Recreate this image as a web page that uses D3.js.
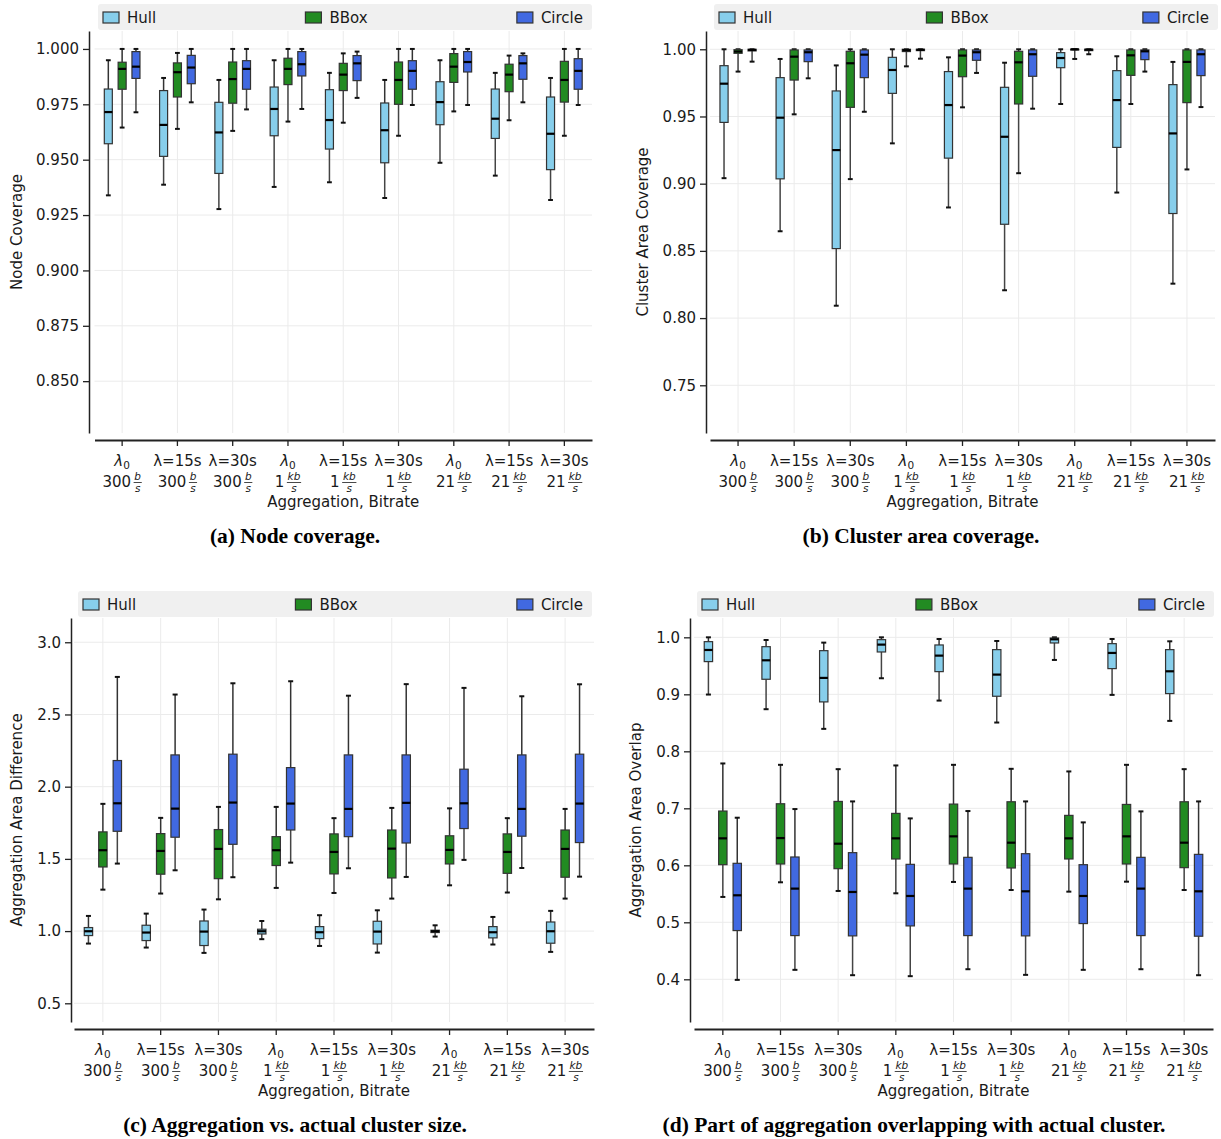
<!DOCTYPE html>
<html><head><meta charset="utf-8">
<script src="https://cdn.jsdelivr.net/npm/d3@7"></script>
<style>body{margin:0;background:#fff} svg{display:block}</style>
</head><body>
<svg id="chart" width="1221" height="1139"></svg>
<script>
// ---------------- DATA ----------------
const aggregation = ["λ0","λ=15s","λ=30s","λ0","λ=15s","λ=30s","λ0","λ=15s","λ=30s"];
const bitrateValue = ["300","300","300","1","1","1","21","21","21"];
const bitrateUnit = ["b","b","b","kb","kb","kb","kb","kb","kb"];
const series = ["Hull","BBox","Circle"];
const seriesColors = ["#87CEEB","#228B22","#4169E1"];

// each row: [lowWhisker, q1, median, q3, highWhisker]
const nodeHull = [[0.9339,0.9572,0.9715,0.9819,0.9949],[0.9387,0.9515,0.9657,0.9812,0.9869],[0.9277,0.9438,0.9623,0.9759,0.986],
  [0.9377,0.9608,0.9729,0.9828,0.9949],[0.9398,0.9548,0.9679,0.9816,0.9892],[0.9327,0.9486,0.9633,0.9756,0.986],
  [0.9486,0.9658,0.976,0.9852,0.9949],[0.9428,0.9596,0.9685,0.9819,0.9892],[0.9318,0.9455,0.9617,0.9783,0.9869]];
const nodeBBox = [[0.9645,0.9818,0.991,0.994,1.0],[0.9639,0.9783,0.9895,0.9937,0.9982],[0.963,0.9755,0.9864,0.9941,1.0],
  [0.9672,0.9839,0.991,0.9958,1.0],[0.9667,0.9812,0.9884,0.9935,0.998],[0.9608,0.975,0.986,0.9941,1.0],
  [0.9718,0.9849,0.992,0.9979,1.0],[0.9678,0.9807,0.9884,0.9931,0.997],[0.9608,0.976,0.986,0.9944,1.0]];
const nodeCircle = [[0.9714,0.9867,0.992,0.9988,1.0],[0.9759,0.9843,0.9916,0.9971,1.0],[0.9727,0.9818,0.991,0.9947,1.0],
  [0.9729,0.9878,0.9931,0.9988,1.0],[0.9779,0.9857,0.9935,0.997,0.9988],[0.9747,0.9818,0.9901,0.9947,1.0],
  [0.9747,0.9896,0.9941,0.9988,1.0],[0.9759,0.9863,0.9935,0.997,0.998],[0.9747,0.9818,0.9901,0.9956,1.0]];

const areaHull = [[0.9041,0.9456,0.9744,0.9878,1.0],[0.8646,0.9036,0.9491,0.9789,0.9928],[0.8092,0.8517,0.925,0.969,0.988],
  [0.93,0.9672,0.9846,0.994,1.0],[0.8823,0.919,0.9585,0.9834,0.994],[0.8207,0.8698,0.9349,0.9717,0.99],
  [0.9593,0.9863,0.9935,0.9975,1.0],[0.8934,0.927,0.9622,0.9841,0.9948],[0.8256,0.8778,0.9374,0.9737,0.9906]];
const areaBBox = [[0.9834,0.997,0.9983,0.9997,1.0],[0.9516,0.9771,0.9945,0.9995,1.0],[0.9034,0.9568,0.9896,0.9985,1.0],
  [0.9873,0.9983,0.9993,1.0,1.0],[0.9568,0.9796,0.9953,0.9995,1.0],[0.9078,0.9593,0.9903,0.9985,1.0],
  [0.9928,0.9995,1.0,1.0,1.0],[0.9593,0.9806,0.9955,0.9995,1.0],[0.9106,0.9603,0.9906,0.9995,1.0]];
const areaCircle = [[0.9908,0.9988,0.9995,1.0,1.0],[0.9784,0.9908,0.9978,0.9995,1.0],[0.9535,0.9789,0.996,0.9995,1.0],
  [0.993,0.999,0.9996,1.0,1.0],[0.9824,0.9918,0.9978,0.9995,1.0],[0.9558,0.9799,0.9963,0.9995,1.0],
  [0.9963,0.999,0.9997,1.0,1.0],[0.9834,0.9923,0.9985,0.9995,1.0],[0.957,0.9804,0.9963,0.9995,1.0]];

const diffHull = [[0.9136,0.969,0.999,1.0244,1.105],[0.886,0.9344,0.99,1.0405,1.121],[0.849,0.9,0.9966,1.07,1.149],
  [0.944,0.98,0.999,1.013,1.07],[0.897,0.948,0.9921,1.031,1.11],[0.851,0.911,0.9966,1.068,1.144],
  [0.962,0.99,0.999,1.006,1.04],[0.907,0.953,0.992,1.031,1.098],[0.856,0.916,0.999,1.063,1.14]];
const diffBBox = [[1.287,1.444,1.56,1.687,1.881],[1.26,1.394,1.555,1.675,1.784],[1.22,1.363,1.569,1.703,1.86],
  [1.299,1.454,1.56,1.654,1.86],[1.264,1.396,1.548,1.673,1.782],[1.225,1.368,1.571,1.70,1.853],
  [1.317,1.465,1.562,1.66,1.85],[1.267,1.40,1.548,1.673,1.782],[1.225,1.373,1.569,1.70,1.846]];
const diffCircle = [[1.4675,1.691,1.885,2.181,2.76],[1.421,1.65,1.848,2.22,2.638],[1.373,1.601,1.89,2.225,2.716],
  [1.474,1.70,1.883,2.132,2.73],[1.435,1.654,1.846,2.22,2.63],[1.375,1.61,1.888,2.22,2.71],
  [1.493,1.71,1.885,2.121,2.684],[1.437,1.657,1.846,2.22,2.626],[1.377,1.613,1.883,2.225,2.709]];

const overlapHull = [[0.8996,0.9574,0.9778,0.9924,1.0],[0.8739,0.9264,0.9597,0.9836,0.9953],[0.8394,0.8867,0.9288,0.9766,0.9907],
  [0.9282,0.9743,0.9872,0.9959,1.0],[0.889,0.9398,0.9679,0.9866,0.9971],[0.8505,0.8966,0.9346,0.9784,0.9936],
  [0.9603,0.9901,0.9965,0.9988,1.0],[0.899,0.9451,0.9726,0.9889,0.9971],[0.8534,0.9013,0.9404,0.9784,0.993]];
const overlapBBox = [[0.5445,0.6011,0.6473,0.6952,0.7787],[0.5702,0.6023,0.6478,0.708,0.7763],[0.555,0.5941,0.6379,0.7121,0.7687],
  [0.5509,0.6111,0.6473,0.6911,0.7752],[0.5708,0.6023,0.6508,0.7074,0.7763],[0.5567,0.5953,0.6397,0.7115,0.7693],
  [0.5538,0.6111,0.6473,0.6876,0.7647],[0.5713,0.6023,0.6508,0.7068,0.7763],[0.5567,0.5959,0.6397,0.7115,0.7687]];
const overlapCircle = [[0.399,0.4855,0.5474,0.6035,0.6835],[0.4166,0.4767,0.5591,0.6146,0.6987],[0.4072,0.4762,0.5532,0.6222,0.7121],
  [0.4055,0.4937,0.5462,0.6017,0.6823],[0.4177,0.4767,0.5591,0.614,0.6952],[0.4078,0.4762,0.5544,0.6204,0.7121],
  [0.4166,0.4978,0.5462,0.6011,0.6753],[0.4177,0.4767,0.5591,0.614,0.6946],[0.4072,0.4756,0.5544,0.6192,0.7121]];

const ticksA = [0.850,0.875,0.900,0.925,0.950,0.975,1.000];
const ticksB = [0.75,0.80,0.85,0.90,0.95,1.00];
const ticksC = [0.5,1.0,1.5,2.0,2.5,3.0];
const ticksD = [0.4,0.5,0.6,0.7,0.8,0.9,1.0];

// ---------------- LAYOUT ----------------
const panels = [
  {data:[nodeHull,nodeBBox,nodeCircle], ticks:ticksA, fmt:".3f", domain:[0.8266,1.0081], ylabel:"Node Coverage",
   caption:"(a) Node coverage.", x0:94.5, x1:592, yAxisX:89, top:31, bottom:433, xAxisY:440, ylabX:17, capX:295, leg:[98,592]},
  {data:[areaHull,areaBBox,areaCircle], ticks:ticksB, fmt:".2f", domain:[0.7145,1.0136], ylabel:"Cluster Area Coverage",
   caption:"(b) Cluster area coverage.", x0:710, x1:1215, yAxisX:706, top:31, bottom:433, xAxisY:440, ylabX:643, capX:921, leg:[714,1218]},
  {data:[diffHull,diffBBox,diffCircle], ticks:ticksC, fmt:".1f", domain:[0.3705,3.168], ylabel:"Aggregation Area Difference",
   caption:"(c) Aggregation vs. actual cluster size.", x0:74, x1:594, yAxisX:71, top:618, bottom:1022, xAxisY:1029, ylabX:17, capX:295, leg:[78,592]},
  {data:[overlapHull,overlapBBox,overlapCircle], ticks:ticksD, fmt:".1f", domain:[0.3251,1.0339], ylabel:"Aggregation Area Overlap",
   caption:"(d) Part of aggregation overlapping with actual cluster.", x0:694, x1:1213, yAxisX:690, top:618, bottom:1022, xAxisY:1029, ylabX:636, capX:914, leg:[697,1214]}
];

const svg = d3.select("#chart");
const FONT = "DejaVu Sans, sans-serif";
const TXT = "#1a1a1a";

panels.forEach(p => {
  const g = svg.append("g");
  const x = d3.scaleBand().domain(d3.range(aggregation.length)).range([p.x0, p.x1]);
  const y = d3.scaleLinear().domain(p.domain).range([p.bottom, p.top]);
  const step = x.step();
  const cx = i => x(i) + x.bandwidth()/2;

  // grid
  g.append("g").selectAll("line").data(p.ticks).join("line")
    .attr("x1", p.x0).attr("x2", p.x1).attr("y1", d=>y(d)).attr("y2", d=>y(d))
    .attr("stroke", "#ebebeb").attr("stroke-width", 1);
  g.append("g").selectAll("line").data(d3.range(aggregation.length)).join("line")
    .attr("x1", cx).attr("x2", cx).attr("y1", p.top).attr("y2", p.bottom)
    .attr("stroke", "#ebebeb").attr("stroke-width", 1);

  // y axis
  const ya = g.append("g").attr("transform", `translate(${p.yAxisX},0)`)
    .call(d3.axisLeft(y).tickValues(p.ticks).tickFormat(d3.format(p.fmt)).tickSize(6).tickSizeOuter(0).tickPadding(4));
  ya.select(".domain").attr("stroke", "#222").attr("stroke-width", 1.5);
  ya.selectAll(".tick line").attr("stroke", "#222").attr("stroke-width", 1.3);
  ya.selectAll(".tick text").attr("font-family", FONT).attr("font-size", 15).attr("fill", TXT);

  // x axis
  const xa = g.append("g").attr("transform", `translate(0,${p.xAxisY})`)
    .call(d3.axisBottom(x).tickSize(6).tickSizeOuter(0).tickFormat(""));
  xa.select(".domain").attr("stroke", "#222").attr("stroke-width", 1.8);
  xa.selectAll(".tick line").attr("stroke", "#222").attr("stroke-width", 1.3);

  // x tick labels
  aggregation.forEach((lab, i) => {
    const tx = cx(i);
    const b1 = p.xAxisY + 26;
    const t1 = g.append("text").attr("x", tx).attr("y", b1).attr("text-anchor", "middle")
      .attr("font-family", FONT).attr("font-size", 15).attr("fill", TXT);
    if (lab === "λ0") {
      t1.append("tspan").attr("font-style", "italic").text("λ");
      t1.append("tspan").attr("font-size", 10.5).attr("dy", 3).text("0");
    } else {
      t1.text(lab);
    }
    // bitrate line with fraction
    const b2 = p.xAxisY + 47;
    const lg = g.append("g");
    const num = lg.append("text").attr("font-family", FONT).attr("font-size", 15).attr("fill", TXT)
      .attr("x", 0).attr("y", b2).text(bitrateValue[i]);
    const nw = num.node().getComputedTextLength();
    const fn = lg.append("text").attr("font-family", FONT).attr("font-size", 10.5).attr("font-style", "italic")
      .attr("fill", TXT).attr("text-anchor", "middle").attr("y", b2 - 7).text(bitrateUnit[i]);
    const fd = lg.append("text").attr("font-family", FONT).attr("font-size", 10.5).attr("font-style", "italic")
      .attr("fill", TXT).attr("text-anchor", "middle").attr("y", b2 + 4.5).text("s");
    const fw = Math.max(fn.node().getComputedTextLength(), fd.node().getComputedTextLength()) + 1.5;
    const fx = nw + 2.5 + fw/2;
    fn.attr("x", fx); fd.attr("x", fx);
    lg.append("line").attr("x1", nw + 2.5).attr("x2", nw + 2.5 + fw).attr("y1", b2 - 4.5).attr("y2", b2 - 4.5)
      .attr("stroke", TXT).attr("stroke-width", 0.8);
    const total = nw + 2.5 + fw;
    lg.attr("transform", `translate(${tx - total/2},0)`);
  });

  // axis titles
  g.append("text").attr("x", (p.x0 + p.x1)/2).attr("y", p.xAxisY + 67).attr("text-anchor", "middle")
    .attr("font-family", FONT).attr("font-size", 15).attr("fill", TXT).text("Aggregation, Bitrate");
  g.append("text").attr("transform", `translate(${p.ylabX},${(p.top+p.bottom)/2}) rotate(-90)`)
    .attr("text-anchor", "middle").attr("dy", "0.35em")
    .attr("font-family", FONT).attr("font-size", 15).attr("fill", TXT).text(p.ylabel);
  g.append("text").attr("x", p.capX).attr("y", p.xAxisY + 103).attr("text-anchor", "middle")
    .attr("font-family", "Liberation Serif, Times New Roman, serif").attr("font-weight", "bold").attr("font-size", 21.5)
    .attr("fill", "#000").text(p.caption);

  // boxes
  const off = 0.25 * step, bw = 0.145 * step, cw = 0.6 * bw;
  series.forEach((s, si) => {
    const sg = g.append("g");
    p.data[si].forEach((d, i) => {
      const bx = cx(i) + (si - 1) * off;
      const [lo, q1, med, q3, hi] = d;
      sg.append("line").attr("x1", bx).attr("x2", bx).attr("y1", y(q3)).attr("y2", y(hi))
        .attr("stroke", "#333").attr("stroke-width", 1.5);
      sg.append("line").attr("x1", bx).attr("x2", bx).attr("y1", y(q1)).attr("y2", y(lo))
        .attr("stroke", "#444").attr("stroke-width", 1.5);
      [lo, hi].forEach(v => sg.append("line").attr("x1", bx - cw/2).attr("x2", bx + cw/2)
        .attr("y1", y(v)).attr("y2", y(v)).attr("stroke", "#111").attr("stroke-width", 2));
      sg.append("rect").attr("x", bx - bw/2).attr("width", bw)
        .attr("y", y(q3)).attr("height", Math.max(0.5, y(q1) - y(q3)))
        .attr("fill", seriesColors[si]).attr("stroke", "#333").attr("stroke-width", 1.2);
      sg.append("line").attr("x1", bx - bw/2).attr("x2", bx + bw/2).attr("y1", y(med)).attr("y2", y(med))
        .attr("stroke", "#000").attr("stroke-width", 2.2);
    });
  });

  // legend
  const lt = p.top - 27, lh = 26;
  const lgd = g.append("g");
  lgd.append("rect").attr("x", p.leg[0]).attr("y", lt).attr("width", p.leg[1] - p.leg[0]).attr("height", lh)
    .attr("rx", 3).attr("fill", "#f0f0f0");
  const items = series.map((s, si) => {
    const ig = lgd.append("g");
    ig.append("rect").attr("x", 0).attr("y", lt + 8).attr("width", 16).attr("height", 11)
      .attr("fill", seriesColors[si]).attr("stroke", "#333").attr("stroke-width", 1.2);
    const t = ig.append("text").attr("x", 24).attr("y", lt + 18.5).attr("font-family", FONT)
      .attr("font-size", 15).attr("fill", TXT).text(s);
    return {ig, w: 24 + t.node().getComputedTextLength()};
  });
  const padL = 5, padR = 9;
  const inner = (p.leg[1] - p.leg[0]) - padL - padR;
  const gap = (inner - d3.sum(items, d => d.w)) / 2;
  let cur = p.leg[0] + padL;
  items.forEach(it => { it.ig.attr("transform", `translate(${cur},0)`); cur += it.w + gap; });
});
</script>
</body></html>
